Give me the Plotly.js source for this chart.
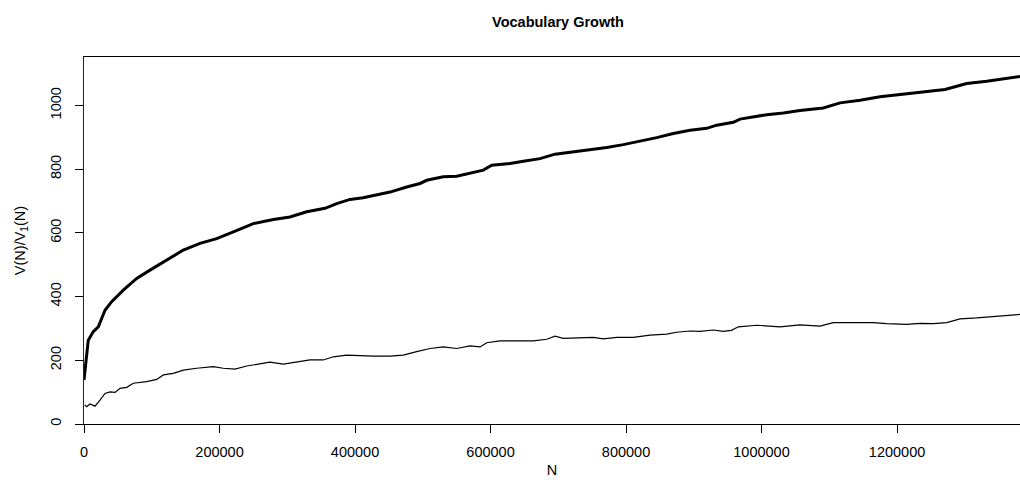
<!DOCTYPE html>
<html>
<head>
<meta charset="utf-8">
<script src="https://cdn.plot.ly/plotly-3.0.1.min.js"></script>
<style>html,body{margin:0;padding:0;background:#fff;}#chart{width:1020px;height:491px;}</style>
</head>
<body>
<div id="chart"></div>
<script>
// Upper (thick) curve: N and V(N)/V1(N)
const upperN = [0, 6300, 13700, 21100, 31000, 40800, 58000, 77800, 97400, 122000, 146600, 171200, 195800, 220400, 249900, 279500, 304000, 328700, 355700, 373000, 392600, 412000, 436900, 451700, 476300, 496000, 505800, 530300, 550100, 569700, 589400, 601800, 628800, 648400, 673000, 695200, 722200, 746900, 771500, 796000, 825500, 845300, 869800, 894500, 919100, 933900, 958400, 968300, 1007700, 1032200, 1056800, 1091200, 1115900, 1145400, 1174900, 1204400, 1233900, 1270800, 1288100, 1302900, 1332400, 1361900, 1381500];
const upperV = [138, 263, 290, 305, 357, 384, 420, 457, 483, 514, 546, 567, 582, 603, 629, 642, 650, 666, 677, 692, 705, 710, 721, 728, 744, 755, 765, 776, 778, 788, 797, 812, 818, 825, 833, 847, 854, 862, 868, 877, 889, 899, 912, 922, 928, 938, 947, 957, 971, 976, 984, 992, 1008, 1016, 1027, 1034, 1041, 1050, 1060, 1069, 1076, 1086, 1091];

// Lower (thin) curve
const lowerN = [1000, 4000, 8900, 16200, 23600, 31000, 38400, 45800, 53100, 63000, 72800, 92500, 107300, 117100, 131800, 146600, 166300, 190900, 205600, 222900, 240100, 264700, 274500, 294200, 313900, 333600, 353200, 368000, 387700, 402500, 427000, 451700, 471300, 491000, 510700, 530300, 550100, 569700, 584500, 594400, 614000, 638700, 663200, 683000, 695200, 707500, 727300, 751700, 766500, 786300, 810700, 835400, 860000, 874800, 894500, 909200, 928900, 943600, 955600, 965800, 992900, 1027300, 1056800, 1086300, 1106000, 1135500, 1165000, 1184700, 1214300, 1233900, 1253600, 1273300, 1293000, 1317600, 1342200, 1366800, 1381500];
const lowerV = [60, 54, 63, 56, 75, 96, 101, 99, 112, 115, 128, 133, 140, 154, 159, 169, 175, 180, 175, 172, 182, 192, 194, 188, 195, 201, 201, 211, 216, 214, 213, 213, 216, 227, 237, 242, 237, 245, 242, 255, 261, 261, 261, 266, 276, 269, 271, 272, 267, 272, 272, 279, 282, 288, 292, 291, 295, 291, 294, 305, 310, 305, 311, 307, 318, 318, 318, 315, 313, 316, 315, 318, 330, 333, 337, 341, 344];

const xTicks = [0, 200000, 400000, 600000, 800000, 1000000, 1200000];
const yTicks = [0, 200, 400, 600, 800, 1000];

const font = {family: 'Liberation Sans, Arial, sans-serif', size: 14.5, color: '#000'};

const data = [
  {x: upperN, y: upperV, type: 'scatter', mode: 'lines', line: {color: '#000', width: 3}, hoverinfo: 'none'},
  {x: lowerN, y: lowerV, type: 'scatter', mode: 'lines', line: {color: '#000', width: 1.2}, hoverinfo: 'none'}
];

const layout = {
  width: 1020, height: 491,
  margin: {l: 84, r: 0, t: 57, b: 67},
  paper_bgcolor: '#fff', plot_bgcolor: '#fff',
  showlegend: false,
  font: font,
  title: {text: '<b>Vocabulary Growth</b>', font: {family: font.family, size: 14.5, color: '#000'}, xref: 'container', x: 558/1020, xanchor: 'center', yref: 'container', y: 1 - 22/491, yanchor: 'middle'},
  xaxis: {
    range: [0, 1381500], showgrid: false, zeroline: false,
    showline: true, linecolor: '#000', linewidth: 1, mirror: true,
    ticks: 'outside', ticklen: 8, tickcolor: '#000', tickwidth: 1,
    tickmode: 'array', tickvals: xTicks, ticktext: xTicks.map(String),
    tickfont: font, ticklabelstandoff: 7,
    title: {text: 'N', font: font, standoff: 5}
  },
  yaxis: {
    range: [0, 1152], showgrid: false, zeroline: false,
    showline: true, linecolor: '#222', linewidth: 1,
    ticks: 'outside', ticklen: 8, tickcolor: '#000', tickwidth: 1,
    tickmode: 'array', tickvals: yTicks, ticktext: yTicks.map(String),
    tickangle: -90, tickfont: font, ticklabelstandoff: 8,
    title: {text: 'V(N)/V<sub>1</sub>(N)', font: font, standoff: 19}
  }
};

Plotly.newPlot('chart', data, layout, {staticPlot: true, displayModeBar: false});
</script>
</body>
</html>
